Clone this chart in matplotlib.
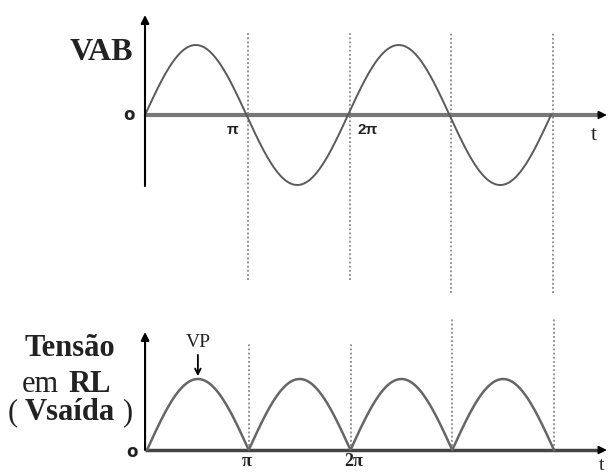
import numpy as np
import matplotlib
matplotlib.use("Agg")
import matplotlib.pyplot as plt

# ---- data ----
amplitude_vab = 1.0          # peak of VAB (normalised)
amplitude_out = 1.0          # peak of output (VP)
n_half_cycles = 4            # half cycles shown
tick_positions = [np.pi, 2 * np.pi]
tick_labels = ["π", "2π"]
marker_lines = [np.pi, 2 * np.pi, 3 * np.pi, 4 * np.pi]
top_marker_bottom = [-2.36, -2.36, -2.54, -2.54]
top_marker_top = [1.17, 1.18, 1.19, 1.19]
bot_marker_top = [1.51, 1.51, 1.86, 1.86]

W, H = 611, 475
fig = plt.figure(figsize=(W / 100, H / 100), dpi=100)
fig.patch.set_facecolor("white")

def fx(px):
    return px / W

def fy(py):
    return 1 - py / H

serif = "Liberation Serif"
ink = "#222222"

# ---- top axes (VAB) ----
sx1 = 101.5 / np.pi
x0_1, y0_1, sy1 = 145, 115, 70
ax1 = fig.add_axes([0, 0, 1, 1])
ax1.set_xlim(-x0_1 / sx1, (W - x0_1) / sx1)
ax1.set_ylim((y0_1 - H) / sy1, y0_1 / sy1)
ax1.axis("off")
ax1.patch.set_alpha(0)

t = np.linspace(0, n_half_cycles * np.pi, 600)
ax1.plot(t, amplitude_vab * np.sin(t), color="#5a5a5a", lw=1.4, zorder=3)
xend1 = (608 - x0_1) / sx1
ax1.plot([0, xend1 - 0.15], [0, 0], color="#777777", lw=3.0, zorder=2, solid_capstyle="butt")
ax1.annotate("", xy=(xend1 + 0.05, 0), xytext=(xend1 - 0.3, 0),
             arrowprops=dict(arrowstyle="-|>", color="black", lw=1.2, mutation_scale=12))
ax1.annotate("", xy=(0, (y0_1 - 15) / sy1), xytext=(0, (y0_1 - 186) / sy1),
             arrowprops=dict(arrowstyle="-|>", color="black", lw=1.5, mutation_scale=12,
                             shrinkA=0, shrinkB=0))
for xm, yb, yt in zip(marker_lines, top_marker_bottom, top_marker_top):
    ax1.plot([xm + 0.05, xm + 0.05], [yb, yt], color="#888888", lw=1.3,
             linestyle=(0, (1, 1.3)), zorder=1)

# ---- bottom axes (Vsaida) ----
sx2 = 101.75 / np.pi
x0_2, y0_2, sy2 = 147, 450, 71
ax2 = fig.add_axes([0, 0, 1, 1])
ax2.set_xlim(-x0_2 / sx2, (W - x0_2) / sx2)
ax2.set_ylim((y0_2 - H) / sy2, y0_2 / sy2)
ax2.axis("off")
ax2.patch.set_alpha(0)

ax2.plot(t, amplitude_out * np.abs(np.sin(t)), color="#666666", lw=1.8, zorder=3)
xend2 = (608 - x0_2) / sx2
ax2.plot([-0.06, xend2 - 0.15], [0, 0], color="#444444", lw=2.5, zorder=2, solid_capstyle="butt")
ax2.annotate("", xy=(xend2 + 0.05, 0), xytext=(xend2 - 0.3, 0),
             arrowprops=dict(arrowstyle="-|>", color="black", lw=1.2, mutation_scale=12))
ax2.annotate("", xy=(-0.06, (y0_2 - 332) / sy2), xytext=(-0.06, 0),
             arrowprops=dict(arrowstyle="-|>", color="black", lw=1.5, mutation_scale=12,
                             shrinkA=0, shrinkB=0))
for xm, yt in zip(marker_lines, bot_marker_top):
    ax2.plot([xm, xm], [0, yt], color="#888888", lw=1.3,
             linestyle=(0, (1, 1.3)), zorder=1)
# VP arrow
ax2.annotate("", xy=(np.pi / 2, amplitude_out + 0.04), xytext=(np.pi / 2, amplitude_out + 0.34),
             arrowprops=dict(arrowstyle="->", color="black", lw=1.3, mutation_scale=10,
                             shrinkA=0, shrinkB=0))
ax2.text(np.pi / 2, amplitude_out + 0.52, "VP", ha="center", va="center",
         fontsize=14, family=serif, color=ink)

# ---- texts ----
fig.text(fx(101), fy(53), "VAB", ha="center", va="center", fontsize=23,
         family=serif, weight="bold", color=ink)
fig.text(fx(129), fy(115), "o", ha="center", va="center", fontsize=12,
         family="DejaVu Sans", weight="bold", color=ink)
fig.text(fx(233), fy(130), tick_labels[0], ha="center", va="center", fontsize=11,
         family="Liberation Sans", weight="bold", color=ink)
fig.text(fx(368), fy(130), tick_labels[1], ha="center", va="center", fontsize=11,
         family="Liberation Sans", weight="bold", color=ink)
fig.text(fx(594), fy(135), "t", ha="center", va="center", fontsize=16,
         family=serif, color=ink)

fig.text(fx(70), fy(349), "Tensão", ha="center", va="center", fontsize=22,
         family=serif, weight="bold", color=ink)
fig.text(fx(22), fy(384), "em", ha="left", va="center", fontsize=22,
         family=serif, color=ink)
fig.text(fx(111), fy(384), "RL", ha="right", va="center", fontsize=22,
         family=serif, weight="bold", color=ink)
fig.text(fx(8), fy(413), "(", ha="left", va="center", fontsize=22,
         family=serif, color=ink)
fig.text(fx(70), fy(413), "Vsaída", ha="center", va="center", fontsize=22,
         family=serif, weight="bold", color=ink)
fig.text(fx(132), fy(413), ")", ha="right", va="center", fontsize=22,
         family=serif, color=ink)
fig.text(fx(132), fy(452), "o", ha="center", va="center", fontsize=12,
         family="DejaVu Sans", weight="bold", color=ink)
fig.text(fx(247), fy(461), tick_labels[0], ha="center", va="center", fontsize=13,
         family=serif, weight="bold", color=ink)
fig.text(fx(354), fy(461), tick_labels[1], ha="center", va="center", fontsize=13,
         family=serif, weight="bold", color=ink)
fig.text(fx(602), fy(466), "t", ha="center", va="center", fontsize=14,
         family=serif, color=ink)

fig.savefig("out.png", dpi=100, facecolor="white")
